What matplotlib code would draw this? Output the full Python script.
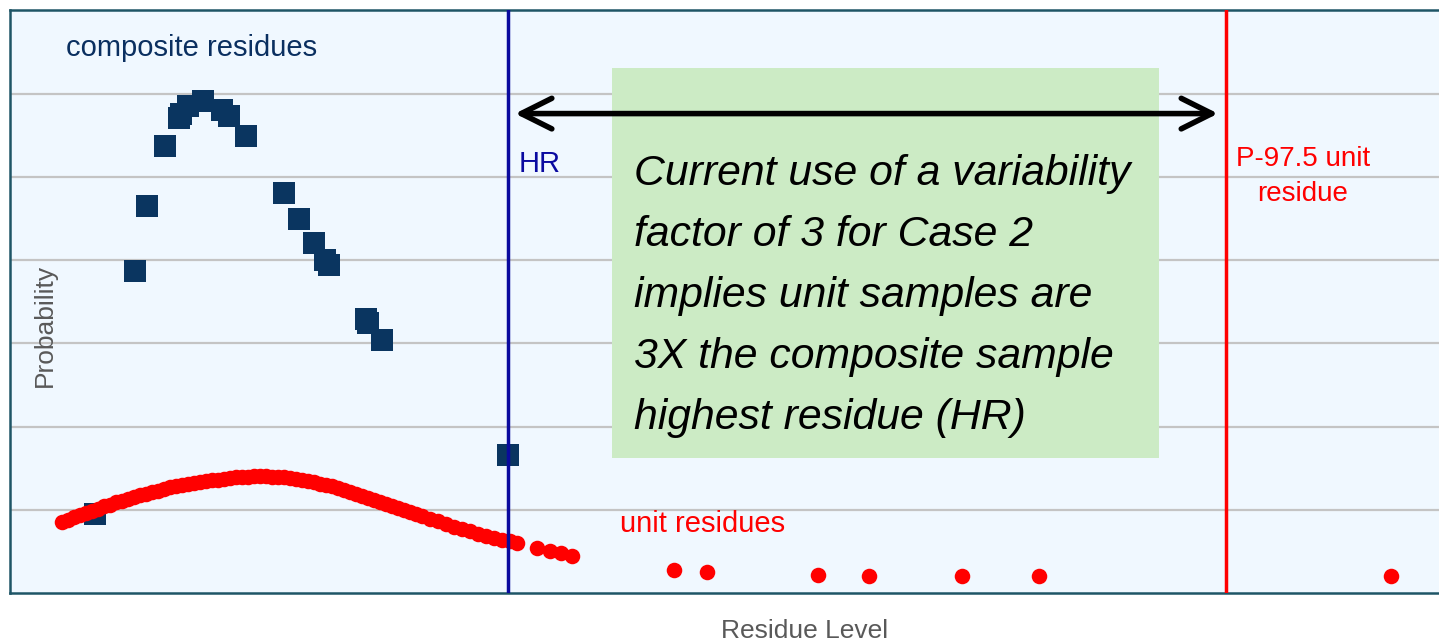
import matplotlib
matplotlib.use('Agg')
import matplotlib.pyplot as plt
from matplotlib.patches import Rectangle

plt.rcParams['font.family'] = ['Liberation Sans', 'DejaVu Sans']

# composite sample residues (squares)
comp_x = [8.5, 12.5, 13.7, 15.5, 16.9, 17.1, 17.8, 19.3, 21.2, 21.9, 23.6,
          27.4, 28.9, 30.4, 31.5, 31.9, 35.6, 35.8, 37.2, 49.8]
comp_y = [0.95, 3.87, 4.65, 5.37, 5.71, 5.75, 5.85, 5.91, 5.80, 5.73, 5.49,
          4.80, 4.49, 4.20, 4.00, 3.94, 3.29, 3.25, 3.04, 1.66]

# unit sample residues (dots)
unit_x = [5.2, 5.8, 6.4, 7.0, 7.6, 8.2, 8.8, 9.4, 10.0, 10.6, 11.2, 11.8,
          12.4, 13.0, 13.6, 14.2, 14.8, 15.4, 16.0, 16.6, 17.2, 17.8, 18.4,
          19.0, 19.6, 20.2, 20.8, 21.4, 22.0, 22.6, 23.2, 23.8, 24.4, 25.0,
          25.6, 26.2, 26.8, 27.4, 28.0, 28.6, 29.2, 29.8, 30.4, 31.0, 31.6,
          32.2, 32.8, 33.4, 34.0, 34.6, 35.2, 35.8, 36.4, 37.0, 37.6, 38.2,
          38.8, 39.4, 40.0, 40.6, 41.2, 42.0, 42.8, 43.6, 44.4, 45.2, 46.0,
          46.8, 47.6, 48.4, 49.2, 50.0, 50.7,
          52.7, 54.0, 55.1, 56.2, 66.4, 69.7, 80.8, 85.9, 95.2, 102.9, 138.1]
unit_y = [0.85, 0.88, 0.91, 0.94, 0.96, 0.99, 1.01, 1.04, 1.06, 1.09, 1.11,
          1.13, 1.15, 1.18, 1.19, 1.21, 1.23, 1.25, 1.27, 1.28, 1.30, 1.31,
          1.32, 1.33, 1.34, 1.36, 1.36, 1.37, 1.38, 1.39, 1.39, 1.39, 1.40,
          1.40, 1.40, 1.39, 1.39, 1.39, 1.38, 1.37, 1.36, 1.34, 1.33, 1.31,
          1.30, 1.28, 1.26, 1.24, 1.21, 1.19, 1.16, 1.14, 1.12, 1.09, 1.07,
          1.04, 1.02, 1.00, 0.97, 0.95, 0.92, 0.89, 0.86, 0.83, 0.79, 0.77,
          0.74, 0.71, 0.68, 0.66, 0.64, 0.62, 0.60,
          0.54, 0.50, 0.48, 0.44, 0.28, 0.25, 0.22, 0.20, 0.20, 0.20, 0.20]

hr_level = 49.8
p975_level = 121.6

fig = plt.figure(figsize=(14.39, 6.4), dpi=100)
ax = fig.add_axes([0.007, 0.0734, 0.993, 0.9104])
ax.set_facecolor('#F0F8FF')
ax.set_xlim(0, 142.9)
ax.set_ylim(0, 7)

for g in range(1, 7):
    ax.axhline(g, color='#C4C4C4', lw=1.6, zorder=1)

ax.scatter(comp_x, comp_y, marker='s', s=250, color='#0A3560', linewidths=0, zorder=3)
ax.scatter(unit_x, unit_y, marker='o', s=125, color='#FF0000', linewidths=0, zorder=4)

ax.axvline(hr_level, color='#0A0A9E', lw=2.5, zorder=5)
ax.axvline(p975_level, color='#FF0000', lw=2.5, zorder=5)

# green note box
ax.add_patch(Rectangle((60.2, 1.62), 54.7, 4.69, facecolor='#CCEBC5', edgecolor='none', zorder=2))
ax.text(62.4, 3.57, 'Current use of a variability\nfactor of 3 for Case 2\nimplies unit samples are\n3X the composite sample\nhighest residue (HR)',
        fontsize=30.8, style='italic', color='black', ha='left', va='center', linespacing=1.68, zorder=6)

ax.annotate('', xy=(50.5, 5.76), xytext=(120.8, 5.76),
            arrowprops=dict(arrowstyle='<->,head_length=1.1,head_width=0.55', mutation_scale=20,
                            lw=4, color='black', shrinkA=0, shrinkB=0), zorder=7)

ax.text(5.6, 6.55, 'composite residues', fontsize=21, color='#0A2F60', ha='left', va='center')
ax.text(50.9, 5.15, 'HR', fontsize=21, color='#0A0AA0', ha='left', va='center')
ax.text(129.3, 5.0, 'P-97.5 unit\nresidue', fontsize=20, color='#FF0000', ha='center', va='center', linespacing=1.45)
ax.text(61.0, 0.83, 'unit residues', fontsize=21, color='#FF0000', ha='left', va='center')

ax.set_xticks([])
ax.set_yticks([])
ax.set_ylabel('Probability', fontsize=19, color='#595959')
ax.yaxis.set_label_coords(0.033, 0.46)
ax.set_xlabel('Residue Level', fontsize=19, color='#595959')
ax.xaxis.set_label_coords(0.556, -0.044)

for side in ['top', 'bottom', 'left']:
    ax.spines[side].set_color('#1E5566')
    ax.spines[side].set_linewidth(1.8)
ax.spines['right'].set_visible(False)

fig.savefig('out.png', dpi=100, facecolor='white')
